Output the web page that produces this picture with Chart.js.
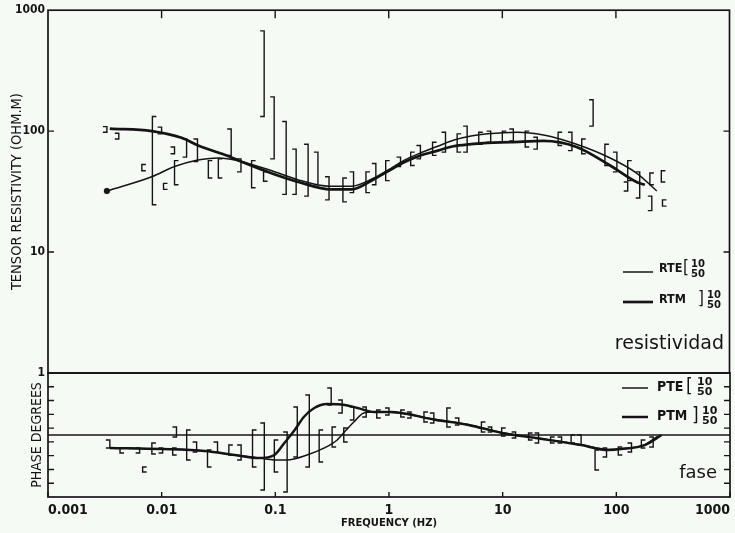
<!DOCTYPE html>
<html>
<head>
<meta charset="utf-8">
<script src="https://cdn.jsdelivr.net/npm/chart.js@4.4.1/dist/chart.umd.min.js"></script>
<style>
  body { margin: 0; background: #f6faf5; }
  #wrap { position: relative; width: 735px; height: 533px; }
  canvas { position: absolute; left: 0; }
  #resCanvas { top: 0; }
  #phaseCanvas { top: 365px; }
</style>
</head>
<body>
<div id="wrap">
  <canvas id="resCanvas" width="735" height="385"></canvas>
  <canvas id="phaseCanvas" width="735" height="168"></canvas>
</div>
<script>
// axis ticks
var freqTicks = [0.001, 0.01, 0.1, 1, 10, 100, 1000];
var freqLabels = ['0.001', '0.01', '0.1', '1', '10', '100', '1000'];
var resTicks = [1, 10, 100, 1000];
var resLabels = ['1', '10', '100', '1000'];
var phaseTicks = [10, 20, 30, 40, 50, 60, 70, 80];
var legendLevels = ['10', '50'];

// apparent resistivity curves (ohm.m)
var rteFreq = [0.0033, 0.0082, 0.013, 0.0195, 0.032, 0.047, 0.1, 0.16, 0.3, 0.47, 0.74, 1.0, 1.35, 1.9, 2.7, 3.7, 5.3, 7.4, 13.5, 23, 45, 89, 152, 229];
var rteRes = [32, 42, 51, 57, 60, 57, 46, 39.5, 35, 35, 41, 48, 57, 66, 75, 84, 91, 95, 98, 93, 78, 60, 45, 32];
var rtmFreq = [0.0035, 0.0082, 0.015, 0.021, 0.039, 0.05, 0.098, 0.16, 0.31, 0.47, 0.74, 1.0, 1.35, 1.9, 2.7, 3.7, 5.3, 7.4, 11.8, 23, 45, 89, 152, 180];
var rtmRes = [105, 100, 88, 76, 62, 56, 44, 38, 33, 33, 40, 47, 55, 63, 69, 75, 78, 80, 81, 83, 74, 52, 38, 36];

// resistivity error bars [freq, low, high]
var rteErr = [[0.0067, 47, 53], [0.0083, 24.6, 132], [0.0104, 33, 37], [0.013, 36, 57], [0.0258, 41, 57], [0.0316, 41, 59],
  [0.062, 34, 57], [0.079, 38.5, 46], [0.395, 26, 41], [0.63, 31, 46], [0.94, 39, 57], [1.56, 52, 67], [2.43, 63, 81],
  [4.0, 67, 95], [6.2, 78, 98], [10, 81, 100], [15.9, 74, 100], [31, 76, 98], [50, 65, 86], [80, 52, 78], [127, 39, 57],
  [199, 36, 45], [251, 38, 47], [257, 24, 27]];
var rtmErr = [[0.0033, 98, 109], [0.0042, 86, 96], [0.01, 95, 108], [0.013, 65, 74], [0.0166, 61, 86], [0.0207, 56, 86],
  [0.041, 63, 104], [0.05, 46, 59], [0.08, 132, 675], [0.098, 59, 192], [0.125, 30, 120], [0.153, 30, 71], [0.195, 29, 78],
  [0.238, 36, 67], [0.298, 27, 42], [0.49, 31, 46], [0.77, 36, 54], [1.27, 51, 61], [1.9, 59, 76], [3.16, 67, 98],
  [4.9, 67, 110], [7.9, 81, 100], [12.5, 83, 104], [20.3, 71, 89], [41, 69, 98], [63, 110, 182], [102, 46, 67],
  [127, 32, 38], [162, 28, 46], [207, 22, 29]];

// phase curves (degrees)
var pteFreq = [0.0035, 0.01, 0.024, 0.044, 0.072, 0.098, 0.127, 0.19, 0.27, 0.35, 0.42, 0.49, 0.6, 0.74, 1.03, 2.6, 5.0, 9.8, 19.5, 49, 85, 110, 178, 230];
var pteDeg = [35.6, 34.8, 33.4, 30.5, 28.3, 26.9, 26.9, 30.5, 35.6, 41.4, 48.6, 54.4, 61.0, 61.7, 61.5, 56.3, 52.6, 46.8, 43.0, 38.0, 34.5, 35.0, 38.0, 44.0];
var ptmFreq = [0.0035, 0.01, 0.024, 0.044, 0.072, 0.098, 0.12, 0.148, 0.178, 0.22, 0.285, 0.41, 0.53, 0.74, 1.03, 2.6, 5.0, 9.8, 19.5, 49, 85, 110, 178, 250];
var ptmDeg = [35.6, 34.8, 33.4, 30.5, 28.3, 30.5, 39.2, 48.6, 58.1, 64.6, 67.5, 66.8, 64.6, 61.7, 61.7, 55.9, 52.3, 46.5, 42.8, 37.7, 34.1, 34.8, 37.7, 45];
var refFreq = [0.001, 1000];
var refDeg = [45, 45];

// phase error bars [freq, low, high]
var pteErr = [[0.0043, 31.9, 35.6], [0.0068, 18.1, 21.8], [0.0082, 31.2, 39.2], [0.0125, 30.5, 35.6], [0.0166, 26.9, 48.6],
  [0.0253, 21.8, 34.1], [0.039, 30.5, 37.7], [0.063, 21.8, 48.6], [0.098, 18.1, 41.4], [0.243, 25.4, 48.6],
  [0.316, 36.3, 50.8], [0.40, 39.9, 50.1], [0.78, 57.3, 63.1], [1.27, 58.1, 63.1], [2.03, 54.4, 61.7], [3.23, 50.8, 64.6],
  [6.5, 47.2, 54.4], [9.8, 44.3, 50.1], [16.9, 41.4, 46.5], [26.4, 39.2, 43.5], [40, 39.2, 45], [65, 19.6, 34.1],
  [104, 30.5, 36.3], [166, 35.6, 41.4]];
var ptmErr = [[0.0035, 35.6, 41.4], [0.0064, 31.9, 35.6], [0.0102, 31.9, 35.6], [0.0135, 43.5, 50.8], [0.0203, 32.7, 39.9],
  [0.031, 32.7, 39.9], [0.05, 26.9, 37.7], [0.08, 5.1, 53.7], [0.127, 3.6, 47.2], [0.156, 29, 65.3], [0.199, 21.8, 74],
  [0.31, 66.8, 79.1], [0.387, 61, 70.4], [0.49, 55.9, 65.3], [0.63, 58.1, 65.3], [1.0, 59.5, 64.6], [1.56, 57.3, 61.7],
  [2.48, 53.7, 61.0], [4.11, 52.3, 57.3], [8.0, 47.2, 50.8], [13.0, 42.8, 47.2], [20.7, 39.2, 46.5], [33, 39.2, 43.5],
  [49, 37.7, 45], [82, 29, 35.6], [136, 32.7, 39.2], [211, 36.3, 43.5]];

var INK = '#141414';
var NARROW = "'Liberation Sans Narrow', 'DejaVu Sans Condensed', sans-serif";

function pts(xs, ys) {
  return xs.map(function (x, i) { return { x: x, y: ys[i] }; });
}

// box round the plot area with inward tick marks
var frame = {
  id: 'frame',
  afterDraw: function (chart, args, o) {
    var ctx = chart.ctx, a = chart.chartArea, sx = chart.scales.x, sy = chart.scales.y;
    ctx.save();
    ctx.strokeStyle = INK;
    ctx.lineWidth = 1.7;
    ctx.strokeRect(a.left, a.top, a.right - a.left, a.bottom - a.top);
    ctx.lineWidth = 1.4;
    ctx.beginPath();
    o.xTicks.forEach(function (v) {
      var px = sx.getPixelForValue(v);
      if (o.xSide === 'top') { ctx.moveTo(px, a.top); ctx.lineTo(px, a.top + o.xLen); }
      else { ctx.moveTo(px, a.bottom); ctx.lineTo(px, a.bottom - o.xLen); }
    });
    o.yTicks.forEach(function (v) {
      var py = sy.getPixelForValue(v);
      ctx.moveTo(a.left, py); ctx.lineTo(a.left + o.yLen, py);
      ctx.moveTo(a.right, py); ctx.lineTo(a.right - o.yLen, py);
    });
    ctx.stroke();
    ctx.restore();
  }
};

// bracket-style error bars
var errorBars = {
  id: 'errorBars',
  afterDatasetsDraw: function (chart) {
    var ctx = chart.ctx, sx = chart.scales.x, sy = chart.scales.y, a = chart.chartArea;
    ctx.save();
    ctx.beginPath();
    ctx.rect(a.left, a.top, a.right - a.left, a.bottom - a.top);
    ctx.clip();
    ctx.strokeStyle = INK;
    ctx.lineWidth = 1.4;
    chart.data.datasets.forEach(function (ds) {
      (ds.errBars || []).forEach(function (e) {
        var px = sx.getPixelForValue(e[0]);
        var y1 = sy.getPixelForValue(e[1]), y2 = sy.getPixelForValue(e[2]);
        ctx.beginPath();
        ctx.moveTo(px + ds.serif, y1);
        ctx.lineTo(px, y1);
        ctx.lineTo(px, y2);
        ctx.lineTo(px + ds.serif, y2);
        ctx.stroke();
      });
    });
    ctx.restore();
  }
};

function panelLegend(id, rows, word) {
  return {
    id: id,
    afterDraw: function (chart) {
      var ctx = chart.ctx;
      ctx.save();
      ctx.fillStyle = INK;
      ctx.strokeStyle = INK;
      ctx.textBaseline = 'middle';
      rows.forEach(function (r) {
        var ds = chart.data.datasets[r.ds];
        ctx.lineWidth = ds.borderWidth;
        ctx.beginPath();
        ctx.moveTo(r.x0, r.ly);
        ctx.lineTo(r.x1, r.ly);
        ctx.stroke();
        ctx.textAlign = 'left';
        ctx.font = r.font;
        ctx.fillText(ds.label, r.tx, r.ty);
        ctx.font = r.bFont;
        ctx.fillText(r.bracket, r.bx, r.ty);
        ctx.font = r.sFont;
        ctx.fillText(legendLevels[0], r.sx, r.ty - r.sd);
        ctx.fillText(legendLevels[1], r.sx, r.ty + r.sd);
      });
      ctx.textAlign = 'right';
      ctx.font = word.font;
      ctx.fillText(word.text, word.x, word.y);
      ctx.restore();
    }
  };
}

var resLegend = panelLegend('resLegend', [
  { ds: 0, x0: 623, x1: 653, ly: 272, tx: 659, ty: 269, font: 'bold 12.5px ' + NARROW, bracket: '[', bx: 683, bFont: '17px ' + NARROW, sx: 691, sd: 5, sFont: 'bold 10px DejaVu Sans' },
  { ds: 1, x0: 623, x1: 653, ly: 302, tx: 659, ty: 300, font: 'bold 12.5px ' + NARROW, bracket: ']', bx: 698, bFont: '17px ' + NARROW, sx: 707, sd: 5, sFont: 'bold 10px DejaVu Sans' }
], { text: 'resistividad', x: 724, y: 344, font: '19px DejaVu Sans' });

var phaseLegend = panelLegend('phaseLegend', [
  { ds: 0, x0: 622, x1: 648, ly: 23, tx: 657, ty: 22, font: 'bold 14px ' + NARROW, bracket: '[', bx: 686, bFont: '19px ' + NARROW, sx: 697, sd: 5, sFont: 'bold 11px DejaVu Sans' },
  { ds: 1, x0: 622, x1: 648, ly: 52, tx: 657, ty: 51, font: 'bold 14px ' + NARROW, bracket: ']', bx: 692, bFont: '19px ' + NARROW, sx: 702, sd: 5, sFont: 'bold 11px DejaVu Sans' }
], { text: 'fase', x: 717, y: 108, font: '18px DejaVu Sans' });

var resChart = new Chart(document.getElementById('resCanvas'), {
  type: 'line',
  data: {
    datasets: [{
      label: 'RTE',
      data: pts(rteFreq, rteRes),
      borderWidth: 1.5,
      errBars: rteErr,
      serif: 4,
      pointRadius: function (c) { return c.dataIndex === 0 ? 3 : 0; },
      pointBackgroundColor: INK
    }, {
      label: 'RTM',
      data: pts(rtmFreq, rtmRes),
      borderWidth: 2.7,
      errBars: rtmErr,
      serif: -4,
      pointRadius: 0
    }]
  },
  options: {
    responsive: false,
    animation: false,
    layout: { padding: { top: 8, right: 5, bottom: 12, left: 0 } },
    elements: { line: { borderColor: INK, cubicInterpolationMode: 'monotone' }, point: { borderWidth: 0 } },
    plugins: {
      legend: { display: false },
      tooltip: { enabled: false },
      frame: { xTicks: freqTicks.slice(1, 6), xSide: 'top', xLen: 8, yTicks: resTicks.slice(1, 3), yLen: 6 }
    },
    scales: {
      x: { type: 'logarithmic', min: 0.001, max: 1000, display: false },
      y: {
        type: 'logarithmic',
        min: 1,
        max: 1000,
        afterBuildTicks: function (s) { s.ticks = resTicks.map(function (v) { return { value: v }; }); },
        afterFit: function (s) { s.width = 48; },
        grid: { display: false, drawTicks: false },
        border: { display: false },
        ticks: {
          padding: 3,
          color: INK,
          font: { family: NARROW, size: 12, weight: 'bold' },
          callback: function (v, i) { return resLabels[i]; }
        },
        title: {
          display: true,
          text: 'TENSOR RESISTIVITY (OHM.M)',
          color: INK,
          padding: { top: 9, bottom: 0 },
          font: { family: NARROW, size: 14.5 }
        }
      }
    }
  },
  plugins: [frame, errorBars, resLegend]
});

var phaseChart = new Chart(document.getElementById('phaseCanvas'), {
  type: 'line',
  data: {
    datasets: [{
      label: 'PTE',
      data: pts(pteFreq, pteDeg),
      borderWidth: 1.5,
      errBars: pteErr,
      serif: 4
    }, {
      label: 'PTM',
      data: pts(ptmFreq, ptmDeg),
      borderWidth: 2.5,
      errBars: ptmErr,
      serif: -4
    }, {
      label: 'ref',
      data: pts(refFreq, refDeg),
      borderWidth: 1.6,
      cubicInterpolationMode: 'default',
      tension: 0
    }]
  },
  options: {
    responsive: false,
    animation: false,
    layout: { padding: { top: 8, right: 5, bottom: 0, left: 0 } },
    elements: { line: { borderColor: INK, cubicInterpolationMode: 'monotone' }, point: { radius: 0 } },
    plugins: {
      legend: { display: false },
      tooltip: { enabled: false },
      frame: { xTicks: freqTicks, xSide: 'bottom', xLen: 5, yTicks: phaseTicks, yLen: 6 }
    },
    scales: {
      x: {
        type: 'logarithmic',
        min: 0.001,
        max: 1000,
        afterBuildTicks: function (s) { s.ticks = freqTicks.map(function (v) { return { value: v }; }); },
        afterFit: function (s) { s.height = 36; },
        grid: { display: false, drawTicks: false },
        border: { display: false },
        ticks: {
          align: 'inner',
          autoSkip: false,
          maxRotation: 0,
          padding: 5,
          color: INK,
          font: { family: NARROW, size: 14, weight: 'bold' },
          callback: function (v, i) { return freqLabels[i]; }
        },
        title: {
          display: true,
          text: 'FREQUENCY (HZ)',
          color: INK,
          padding: { top: 0, bottom: 4 },
          font: { family: 'DejaVu Sans', size: 10, weight: 'bold' }
        }
      },
      y: {
        min: 0,
        max: 90,
        afterFit: function (s) { s.width = 48; },
        grid: { display: false, drawTicks: false },
        border: { display: false },
        ticks: { display: false },
        title: {
          display: true,
          text: 'PHASE DEGREES',
          color: INK,
          padding: { top: 29, bottom: 0 },
          font: { family: NARROW, size: 14 }
        }
      }
    }
  },
  plugins: [frame, errorBars, phaseLegend]
});
</script>
</body>
</html>
